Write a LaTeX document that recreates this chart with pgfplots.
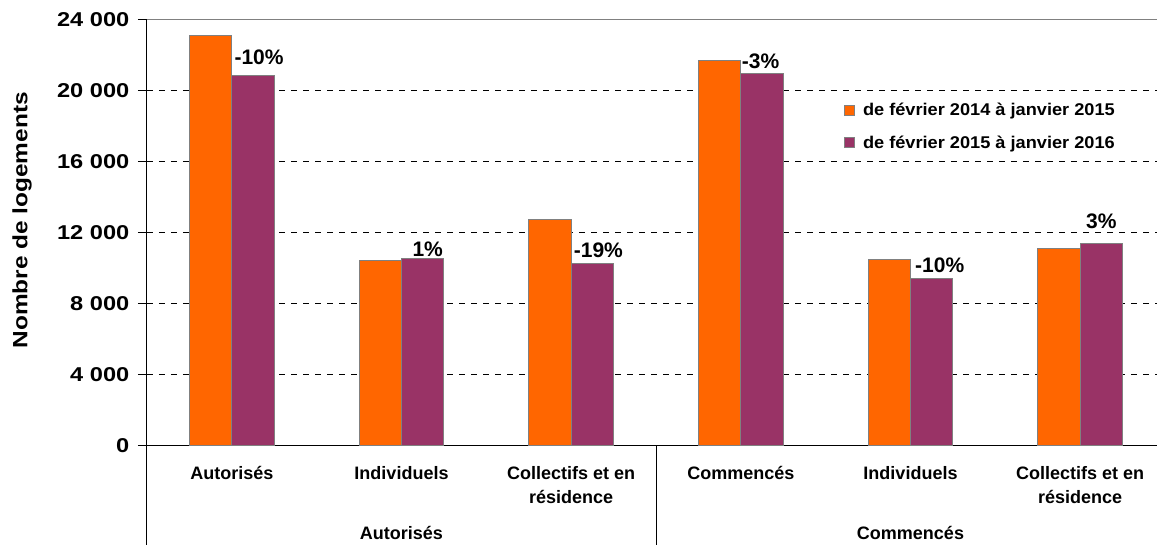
\documentclass[border=0pt]{standalone}
\usepackage{fontspec}
\setmainfont{Liberation Sans}
\newfontfamily\wide{Liberation Sans}[FakeStretch=1.18]
\newfontfamily\legfont{Liberation Sans}[FakeStretch=1.07]
\usepackage{pgfplots}
\usepackage{pgfplotstable}
\pgfplotsset{compat=1.18}
\definecolor{orangebar}{HTML}{FF6600}
\definecolor{plum}{HTML}{993366}
\definecolor{edge}{HTML}{808080}
\pgfplotsset{legimg/.style={legend image code/.code={\draw[##1] (0pt,-3.75pt) rectangle (7.5pt,3.75pt);}}}

% second period, with the change label and its offset (pt)
\pgfplotstableread{
x y label dx dy
0 20900 -10\% 4.5 3.75
1 10540 1\% 3.75 -2.25
2 10290 -19\% 4.5 0.75
3 21000 -3\% -1.1 0
4 9420 -10\% 6 1
5 11420 3\% 0 7.5
}\second

\newcommand{\twol}[2]{\begin{tabular}[t]{@{}c@{}}#1\\#2\end{tabular}}

\begin{document}
\begin{tikzpicture}
\useasboundingbox (0,0) rectangle (867.75pt,408.75pt);
\begin{axis}[
  at={(110.25pt,74.25pt)}, anchor=south west,
  width=763.5pt, height=319.5pt, scale only axis,
  ybar=0pt, bar width=0.25,
  xmin=-0.5, xmax=5.5, ymin=0, ymax=24000,
  axis x line*=bottom, axis y line*=left,
  axis line style={black, line width=0.75pt},
  xtick={0,...,5},
  xticklabels={Autorisés, Individuels, \twol{Collectifs et en}{résidence}, Commencés, Individuels, \twol{Collectifs et en}{résidence}},
  x tick style={draw=none},
  xticklabel style={font=\bfseries\fontsize{13.5}{18}\selectfont, anchor=base, yshift=-18.75pt},
  ytick={0,4000,...,24000},
  y tick style={black, line width=0.75pt},
  tick align=outside, major tick length=6.75pt,
  yticklabel style={font=\wide\bfseries\fontsize{15}{18}\selectfont, xshift=-3pt},
  scaled y ticks=false,
  /pgf/number format/.cd, 1000 sep={\ }, assume math mode=true, /pgfplots/.cd,
  ymajorgrids, grid style={black, dash pattern=on 4.5pt off 4.5pt, line width=0.75pt},
  ylabel={Nombre de logements},
  every axis y label/.style={at={([xshift=-93.75pt]rel axis cs:0,0.53)}, rotate=90, anchor=center, font=\wide\bfseries\fontsize{15.5}{18}\selectfont},
  legend style={at={(rel axis cs:0.6847,0.806)}, anchor=north west, draw=none, fill=none, inner sep=0pt, row sep=13.7pt,
    font=\legfont\bfseries\fontsize{12.75}{15}\selectfont, nodes={inner sep=0pt},
    /tikz/every odd column/.append style={column sep=5.8pt}},
  legend cell align=left,
  clip=false,
]
\addplot[fill=orangebar, draw=edge, line width=0.75pt, legimg]
  coordinates {(0,23100) (1,10450) (2,12750) (3,21700) (4,10520) (5,11150)};
\addplot[fill=plum, draw=edge, line width=0.75pt, legimg,
  nodes near coords, point meta=explicit symbolic,
  visualization depends on={\thisrow{dx} \as \dx},
  visualization depends on={\thisrow{dy} \as \dy},
  every node near coord/.append style={font=\bfseries\fontsize{15.75}{18}\selectfont, text=black, xshift=\dx pt, yshift=\dy pt}]
  table[x=x, y=y, meta=label] {\second};
\legend{de février 2014 à janvier 2015, de février 2015 à janvier 2016}
\draw[edge, line width=0.75pt] (rel axis cs:0,1) -- (rel axis cs:1,1);
\draw[black, line width=0.75pt] (rel axis cs:0,0) -- ++(0pt,-74.25pt);
\draw[black, line width=0.75pt] (axis cs:2.5,0) -- ++(0pt,-74.25pt);
\node[font=\bfseries\fontsize{13.5}{18}\selectfont, anchor=base] at ([yshift=-70.5pt]axis cs:1,0) {Autorisés};
\node[font=\bfseries\fontsize{13.5}{18}\selectfont, anchor=base] at ([yshift=-70.5pt]axis cs:4,0) {Commencés};
\end{axis}
\end{tikzpicture}
\end{document}
